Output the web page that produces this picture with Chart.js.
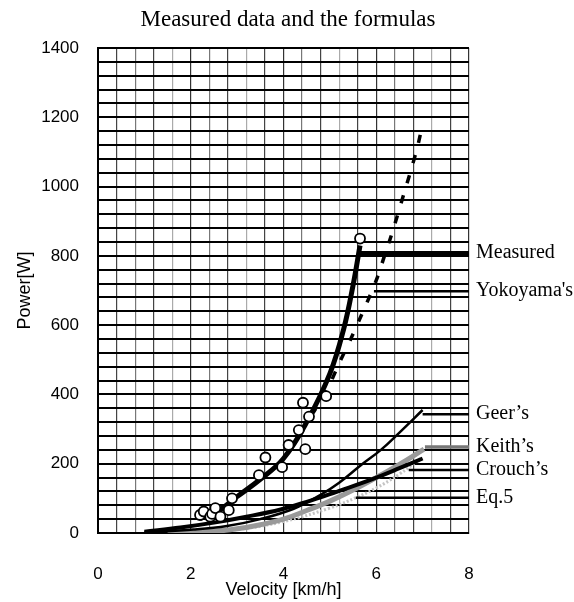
<!DOCTYPE html>
<html>
<head>
<meta charset="utf-8">
<script src="https://cdn.jsdelivr.net/npm/chart.js@4.4.1/dist/chart.umd.min.js"></script>
<style>
  html, body { margin: 0; padding: 0; background: #fff; }
</style>
</head>
<body>
<canvas id="grafico" width="574" height="602"></canvas>
<script>
// valores
const xTickLabels = [0, 2, 4, 6, 8];
const yTickLabels = [0, 200, 400, 600, 800, 1000, 1200, 1400];

const medidosX = [2.2, 2.28, 2.42, 2.46, 2.53, 2.64, 2.82, 2.89, 3.47, 3.61, 3.97, 4.11, 4.33, 4.42, 4.47, 4.55, 4.92, 5.65];
const medidosY = [52, 62, 47, 55, 72, 47, 66, 100, 167, 218, 190, 254, 297, 376, 242, 336, 395, 850];

const ajusteX = [2.2, 2.6, 3.0, 3.5, 4.0, 4.5, 5.0, 5.3, 5.5, 5.65];
const ajusteY = [42, 64, 105, 155, 215, 320, 460, 590, 715, 830];

const yokoyamaX = [4.6, 4.8, 5.0, 5.2, 5.45, 5.7, 5.88, 6.03, 6.17, 6.34, 6.48, 6.62, 6.75, 6.89, 7.0];
const yokoyamaY = [340, 380, 430, 490, 560, 635, 690, 740, 797, 865, 927, 990, 1048, 1115, 1180];

const geerX = [1.0, 2.06, 2.78, 3.5, 4.22, 4.8, 5.2, 5.66, 6.1, 6.5, 7.0];
const geerY = [2, 10, 20, 40, 70, 110, 145, 195, 240, 290, 355];

const keithX = [1.5, 2.5, 3.0, 3.5, 4.0, 4.5, 5.0, 5.5, 6.0, 6.5, 7.03];
const keithY = [2, 5, 12, 24, 40, 65, 92, 124, 160, 198, 242];

const crouchX = [1.0, 1.78, 2.5, 3.2, 3.94, 4.5, 5.0, 5.5, 6.1, 6.5, 7.0];
const crouchY = [4, 16, 30, 47, 68, 90, 112, 135, 165, 187, 215];

const eq5X = [2.0, 3.0, 4.0, 5.0, 5.56, 6.0, 6.5, 6.95];
const eq5Y = [2, 10, 33, 72, 102, 130, 170, 215];

// linhas de chamada das legendas: valor de y e x inicial
const legendas = ['Measured', "Yokoyama's", 'Geer\u2019s', 'Keith\u2019s', 'Crouch\u2019s', 'Eq.5'];
const chamadaY = [808, 698, 343, 248, 182, 102];
const chamadaX = [5.65, 5.95, 7.0, 7.05, 6.7, 5.56];

function pares(xs, ys) {
    return xs.map((x, i) => ({ x: x, y: ys[i] }));
}

function chamada(i, cor, largura) {
    return {
        data: [{ x: chamadaX[i], y: chamadaY[i] }, { x: 8, y: chamadaY[i] }],
        showLine: true,
        borderColor: cor,
        borderWidth: largura,
        pointRadius: 0,
        order: 2
    };
}

const etiquetasPlugin = {
    id: 'etiquetas',
    afterDatasetsDraw(chart) {
        const c = chart.ctx;
        const area = chart.chartArea;
        const escalaY = chart.scales.y;
        c.save();
        c.fillStyle = '#000';
        c.textAlign = 'center';
        c.textBaseline = 'alphabetic';
        c.font = '23px "Liberation Serif"';
        c.fillText('Measured data and the formulas', 288, 26);
        c.font = '20px "Liberation Serif"';
        c.textAlign = 'left';
        c.textBaseline = 'middle';
        legendas.forEach((nome, i) => {
            c.fillText(nome, area.right + 7, escalaY.getPixelForValue(chamadaY[i]));
        });
        c.restore();
    }
};

const corGradeX = ['#000', '#444', '#777', '#444', '#aaa', '#333', '#777', '#444', '#aaa', '#444', '#333',
                   '#777', '#444', '#aaa', '#444', '#333', '#777', '#444', '#aaa', '#444', '#333'];

function ehRotulo(v, lista) {
    return lista.some(t => Math.abs(t - v) < 1e-6);
}

const ctx = document.getElementById('grafico');

new Chart(ctx, {
    type: 'scatter',
    data: {
        datasets: [
            {
                label: 'Measured',
                data: pares(medidosX, medidosY),
                pointStyle: 'circle',
                pointRadius: 5,
                borderWidth: 1.8,
                borderColor: '#000',
                backgroundColor: '#fff',
                order: 0
            },
            {
                label: 'ajuste',
                data: pares(ajusteX, ajusteY),
                showLine: true,
                tension: 0.4,
                borderColor: '#000',
                borderWidth: 5,
                pointRadius: 0,
                order: 1
            },
            {
                label: 'Yokoyama',
                data: pares(yokoyamaX, yokoyamaY),
                showLine: true,
                tension: 0.3,
                borderColor: '#000',
                borderWidth: 3.5,
                borderDash: [8, 13],
                pointRadius: 0,
                order: 1
            },
            {
                label: 'Eq.5',
                data: pares(eq5X, eq5Y),
                showLine: true,
                tension: 0.4,
                borderColor: '#c4c4c4',
                borderWidth: 3,
                borderDash: [2, 2],
                pointRadius: 0,
                order: 4
            },
            {
                label: 'Keith',
                data: pares(keithX, keithY),
                showLine: true,
                tension: 0.4,
                borderColor: '#999',
                borderWidth: 5,
                pointRadius: 0,
                order: 3
            },
            {
                label: 'Geer',
                data: pares(geerX, geerY),
                showLine: true,
                tension: 0.4,
                borderColor: '#000',
                borderWidth: 2.5,
                pointRadius: 0,
                order: 1
            },
            {
                label: 'Crouch',
                data: pares(crouchX, crouchY),
                showLine: true,
                tension: 0.4,
                borderColor: '#000',
                borderWidth: 4,
                pointRadius: 0,
                order: 1
            },
            chamada(0, '#000', 4),
            chamada(1, '#000', 2.5),
            chamada(2, '#000', 2.5),
            chamada(3, '#777', 3.5),
            chamada(4, '#000', 2.5),
            chamada(5, '#000', 2.5)
        ]
    },
    options: {
        responsive: false,
        maintainAspectRatio: false,
        animation: false,
        layout: {
            padding: { left: 0, right: 105, top: 48, bottom: 0 }
        },
        plugins: {
            legend: { display: false },
            title: { display: false },
            tooltip: { enabled: false }
        },
        scales: {
            x: {
                type: 'linear',
                min: 0,
                max: 8,
                afterFit(scale) { scale.height = 69; },
                ticks: {
                    stepSize: 0.4,
                    autoSkip: false,
                    maxRotation: 0,
                    padding: 31,
                    color: '#000',
                    font: { family: '"Liberation Sans", Arial', size: 17 },
                    callback: v => ehRotulo(v, xTickLabels) ? String(Math.round(v)) : ''
                },
                grid: {
                    drawTicks: false,
                    color: c => corGradeX[c.index] || '#555',
                    lineWidth: 1.2
                },
                border: { color: '#000', width: 2 },
                title: {
                    display: true,
                    text: 'Velocity [km/h]',
                    color: '#000',
                    font: { family: '"Liberation Sans", Arial', size: 18 },
                    padding: { top: 0, bottom: 1 }
                }
            },
            y: {
                min: 0,
                max: 1400,
                afterFit(scale) { scale.width = 98; },
                ticks: {
                    stepSize: 40,
                    autoSkip: false,
                    padding: 19,
                    color: '#000',
                    font: { family: '"Liberation Sans", Arial', size: 17 },
                    callback: v => ehRotulo(v, yTickLabels) ? String(Math.round(v)) : ''
                },
                grid: {
                    drawTicks: false,
                    color: '#000',
                    lineWidth: 2
                },
                border: { color: '#000', width: 2 },
                title: {
                    display: true,
                    text: 'Power[W]',
                    color: '#000',
                    font: { family: '"Liberation Sans", Arial', size: 18 },
                    padding: { top: 14, bottom: 0 }
                }
            }
        }
    },
    plugins: [etiquetasPlugin]
});
</script>
</body>
</html>
